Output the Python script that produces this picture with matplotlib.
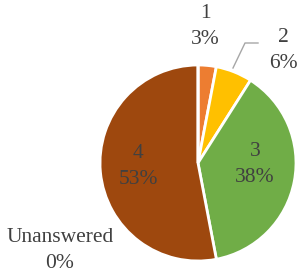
import matplotlib
matplotlib.use("Agg")
import matplotlib.pyplot as plt

categories = ["1", "2", "3", "4", "Unanswered"]
values = [3, 6, 38, 53, 0]
pct_labels = ["3%", "6%", "38%", "53%", "0%"]
colors = ["#ED7D31", "#FFC000", "#70AD47", "#9E480E", "#5B9BD5"]

W, H = 301, 278
fig = plt.figure(figsize=(W / 100, H / 100), dpi=100)
ax = fig.add_axes([0, 0, 1, 1])

cx, cy, r = 198, H - 163, 98
wedges, _ = ax.pie(values, colors=colors, startangle=90, counterclock=False,
                   center=(cx, cy), radius=r, frame=True,
                   wedgeprops=dict(edgecolor="white", linewidth=2))
ax.set_xlim(0, W)
ax.set_ylim(0, H)
ax.set_aspect("equal")
ax.axis("off")

font = dict(family=["Liberation Serif", "DejaVu Serif"], fontsize=15.5,
            color="#404040", ha="center", va="center", linespacing=1.5)
label_pos = [(205, 27), (283, 50), (255, 164), (138, 166), (60, 251)]
for cat, p, (x, y) in zip(categories, pct_labels, label_pos):
    ax.text(x, H - y, f"{cat}\n{p}", **font)

# leader line for slice 2
ax.plot([258, 245, 233], [H - 43, H - 43, H - 68], color="#A6A6A6", lw=1.0)

fig.savefig("out.png", dpi=100)
